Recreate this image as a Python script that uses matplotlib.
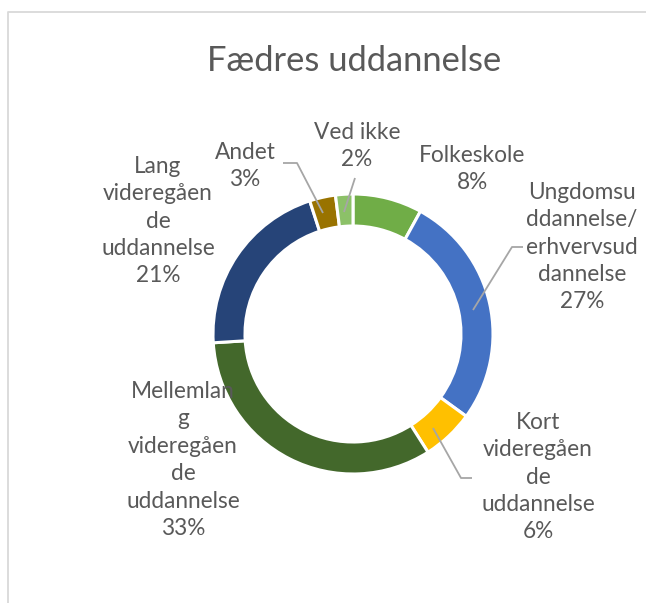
import matplotlib
matplotlib.use("Agg")
import matplotlib.pyplot as plt

title = "Fædres uddannelse"
categories = ["Folkeskole", "Ungdomsuddannelse/erhvervsuddannelse",
              "Kort videregående uddannelse", "Mellemlang videregående uddannelse",
              "Lang videregående uddannelse", "Andet", "Ved ikke"]
values = [8, 27, 6, 33, 21, 3, 2]
label_texts = ["Folkeskole\n8%",
               "Ungdomsu\nddannelse/\nerhvervsud\ndannelse\n27%",
               "Kort\nvideregåen\nde\nuddannelse\n6%",
               "Mellemlan\ng\nvideregåen\nde\nuddannelse\n33%",
               "Lang\nvideregåen\nde\nuddannelse\n21%",
               "Andet\n3%",
               "Ved ikke\n2%"]
colors = ["#70AD47", "#4472C4", "#FFC000", "#43682B", "#264478", "#997300", "#8CC168"]

W, H = 646, 603
fig = plt.figure(figsize=(W / 100, H / 100), dpi=100)
ax = fig.add_axes([0, 0, 1, 1])

def py(y):
    return H - y

cx, cy, R, ring = 353, 334, 140, 32
ax.pie(values, colors=colors, startangle=90, counterclock=False,
       center=(cx, py(cy)), radius=R,
       wedgeprops=dict(width=ring, edgecolor="white", linewidth=2.2))
ax.set_xlim(0, W)
ax.set_ylim(0, H)
ax.set_aspect("auto")
ax.axis("off")

font = "Lato"
tcol = "#595959"
ax.text(354, py(61), title, ha="center", va="center", fontsize=24.8,
        color=tcol, family=font)

label_pos = [(472, 169), (582, 247), (538, 477), (183, 460), (158, 221), (245, 166), (357, 146)]
for (x, y), t in zip(label_pos, label_texts):
    ax.text(x, py(y), t, ha="center", va="center", fontsize=16.3,
            color=tcol, family=font, linespacing=1.38)

leaders = [
    [(283, 163), (297, 163), (323, 213)],
    [(355, 178), (344, 212)],
    [(523, 247), (512, 247), (473, 310)],
    [(472, 478), (461, 478), (433, 428)],
]
for pts in leaders:
    xs = [p[0] for p in pts]
    ys = [py(p[1]) for p in pts]
    ax.plot(xs, ys, color="#A6A6A6", lw=1.3, solid_capstyle="butt")

# chart border (top and left visible)
ax.plot([7.5, 7.5, W], [0, py(11.5), py(11.5)], color="#D9D9D9", lw=1.3)

fig.savefig("out.png", dpi=100)
